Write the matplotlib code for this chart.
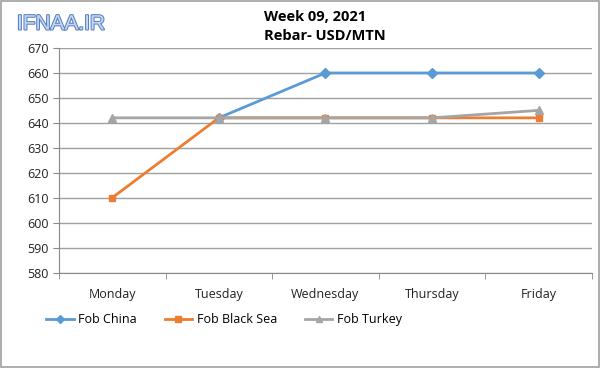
import numpy as np
import matplotlib.pyplot as plt
import matplotlib.patheffects as pe
from matplotlib.patches import Rectangle

days = ['Monday', 'Tuesday', 'Wednesday', 'Thursday', 'Friday']
fob_china = [np.nan, 642, 660, 660, 660]
fob_black_sea = [610, 642, 642, 642, 642]
fob_turkey = [642, 642, 642, 642, 645]

plt.rcParams['font.family'] = ['Open Sans', 'DejaVu Sans']

fig = plt.figure(figsize=(6, 3.68), dpi=100)
ax = fig.add_axes([0.0983, 0.2595, 0.888, 0.610])

x = np.arange(len(days))
ax.plot(x, fob_china, color='#5b9bd5', lw=2, marker='D', ms=5, label='Fob China')
ax.plot(x, fob_black_sea, color='#ed7d31', lw=2, marker='s', ms=5, label='Fob Black Sea')
ax.plot(x, fob_turkey, color='#a5a5a5', lw=2, marker='^', ms=6, label='Fob Turkey')

ax.set_ylim(580, 670)
ax.set_yticks(np.arange(580, 671, 10))
ax.set_xlim(-0.5, 4.5)
ax.set_xticks(x)
ax.set_xticklabels(days)
ax.set_xticks(np.arange(-0.5, 4.6, 1), minor=True)
ax.tick_params(axis='x', which='major', length=0, pad=11, labelsize=9, labelcolor='#222222')
ax.tick_params(axis='x', which='minor', length=4, color='#888888')
ax.tick_params(axis='y', length=4, color='#888888', labelsize=9, labelcolor='#222222')
ax.grid(axis='y', color='#a0a0a0', lw=1)
ax.set_axisbelow(True)
for s in ['top', 'right']:
    ax.spines[s].set_visible(False)
for s in ['left', 'bottom']:
    ax.spines[s].set_color('#888888')

ax.legend(loc='upper left', bbox_to_anchor=(46 / 600, 1 - 313 / 368),
          bbox_transform=fig.transFigure, ncol=3, frameon=False, borderpad=0,
          borderaxespad=0, fontsize=9, handlelength=2.2, handletextpad=0.4,
          columnspacing=2.2, markerscale=0.8)

fig.text(264 / 600, 1 - 17 / 368, 'Week 09, 2021', ha='left', va='center',
         fontsize=10.5, fontweight='bold')
fig.text(264 / 600, 1 - 36 / 368, 'Rebar- USD/MTN', ha='left', va='center',
         fontsize=10.5, fontweight='bold')
fig.text(17 / 600, 1 - 24 / 368, 'IFNAA.IR', ha='left', va='center', fontsize=15,
         family='Liberation Sans', color='#c4d8f2',
         path_effects=[pe.withStroke(linewidth=1.5, foreground='#5a7fc0')])

fig.patches.append(Rectangle((0.001, 0.002), 0.997, 0.996, transform=fig.transFigure,
                             fill=False, edgecolor='#a0a0a0', lw=1.2))

fig.savefig('out.png', dpi=100)
